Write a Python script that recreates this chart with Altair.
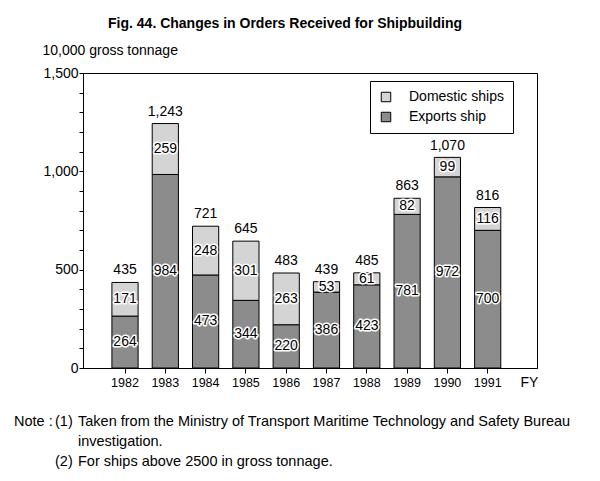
import altair as alt
import pandas as pd

years = ["1982", "1983", "1984", "1985", "1986", "1987", "1988", "1989", "1990", "1991"]
exports = [264, 984, 473, 344, 220, 386, 423, 781, 972, 700]
domestic = [171, 259, 248, 301, 263, 53, 61, 82, 99, 116]
totals = [435, 1243, 721, 645, 483, 439, 485, 863, 1070, 816]
series_names = ["Domestic ships", "Exports ship"]
series_colors = ["#d4d4d4", "#8c8c8c"]
y_ticks = list(range(0, 1501, 100))

title_text = "Fig. 44. Changes in Orders Received for Shipbuilding"
y_title = "10,000 gross tonnage"
x_title = "FY"
note_lines = [
    "Note :",
    "(1)",
    "Taken from the Ministry of Transport Maritime Technology and Safety Bureau",
    "investigation.",
    "(2)",
    "For ships above 2500 in gross tonnage.",
]

rows = []
for yr, e, d in zip(years, exports, domestic):
    rows.append({"year": yr, "series": "Exports ship", "ord": 0, "value": e})
    rows.append({"year": yr, "series": "Domestic ships", "ord": 1, "value": d})
df = pd.DataFrame(rows)
tot_df = pd.DataFrame({"year": years, "total": totals})
dummy = pd.DataFrame({"d": [0]})

FONT = "Liberation Sans"

xscale = alt.Scale(domain=years, paddingInner=0.35, paddingOuter=0.808, align=0.444)
yscale = alt.Scale(domain=[0, 1500], nice=False)

x_axis = alt.Axis(
    title=x_title,
    labelAngle=0,
    labelFontSize=12.5,
    labelPadding=3,
    tickSize=5,
    titleFontSize=14,
    titleFontWeight="normal",
    titleAlign="left",
    titleBaseline="middle",
    titleX=437,
    titleY=14,
)
y_axis = alt.Axis(
    title=y_title,
    values=y_ticks,
    labelExpr="datum.value % 500 == 0 ? format(datum.value, ',') : ''",
    labelFontSize=14,
    labelPadding=1,
    labelOverlap=False,
    labelFlush=False,
    tickSize=4,
    grid=False,
    titleAngle=0,
    titleAlign="left",
    titleBaseline="middle",
    titleFontSize=14,
    titleFontWeight="normal",
    titleX=-41,
    titleY=-23,
)

x_enc = alt.X("year:N", scale=xscale, sort=years, axis=x_axis)

base = (
    alt.Chart(df)
    .transform_stack(
        stack="value",
        groupby=["year"],
        as_=["v0", "v1"],
        sort=[alt.SortField("ord", order="ascending")],
    )
    .transform_calculate(mid="(datum.v0 + datum.v1) / 2")
)

bars = base.mark_bar(stroke="black", strokeWidth=1).encode(
    x=x_enc,
    y=alt.Y("v0:Q", scale=yscale, axis=y_axis),
    y2="v1:Q",
    color=alt.Color(
        "series:N",
        scale=alt.Scale(domain=series_names, range=series_colors),
        legend=alt.Legend(
            title=None,
            orient="none",
            legendX=287,
            legendY=8,
            strokeColor="black",
            fillColor="white",
            padding=9,
            symbolType="square",
            symbolSize=90,
            symbolStrokeColor="black",
            symbolStrokeWidth=1,
            labelFontSize=14,
            labelOffset=16,
            rowPadding=6,
        ),
    ),
)

halo = base.mark_text(fontSize=14, stroke="white", strokeWidth=3, strokeJoin="round", baseline="middle").encode(
    x=x_enc,
    y=alt.Y("mid:Q", scale=yscale, axis=y_axis),
    text="value:Q",
)
inner = base.mark_text(fontSize=14, color="black", baseline="middle").encode(
    x=x_enc,
    y=alt.Y("mid:Q", scale=yscale, axis=y_axis),
    text="value:Q",
)
tot = alt.Chart(tot_df).mark_text(fontSize=14, baseline="bottom", dy=-5, color="black").encode(
    x=x_enc,
    y=alt.Y("total:Q", scale=yscale, axis=y_axis),
    text=alt.Text("total:Q", format=","),
)

note_pos = [(-69, 349), (-28, 349), (-5, 349), (-5, 369), (-28, 389), (-5, 389)]
notes = [
    alt.Chart(dummy)
    .mark_text(align="left", baseline="middle", fontSize=14.5, color="black")
    .encode(x=alt.value(px), y=alt.value(py), text=alt.value(t))
    for t, (px, py) in zip(note_lines, note_pos)
]

chart = (
    alt.layer(bars, halo, inner, tot, *notes)
    .properties(
        width=454,
        height=295,
        title=alt.TitleParams(
            text=title_text,
            fontSize=14,
            fontWeight="bold",
            anchor="middle",
            dx=-25,
            offset=12,
            color="black",
        ),
        padding={"left": 75, "top": 65, "right": 55, "bottom": 105},
        autosize=alt.AutoSizeParams(type="none"),
    )
    .configure(font=FONT, background="white")
    .configure_view(stroke="black", strokeWidth=1)
    .configure_axis(
        domainColor="black",
        tickColor="black",
        labelColor="black",
        titleColor="black",
        labelFont=FONT,
        titleFont=FONT,
        labelOverlap=False,
    )
    .configure_legend(labelColor="black", labelFont=FONT)
)

chart.save("out.html", embed_options={"renderer": "svg", "actions": False})
